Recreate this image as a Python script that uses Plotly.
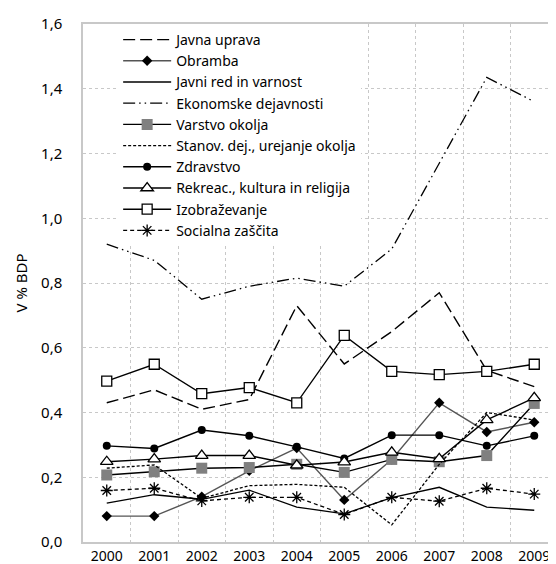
import plotly.graph_objects as go

years = ["2000", "2001", "2002", "2003", "2004", "2005", "2006", "2007", "2008", "2009"]

javna_uprava = [0.43, 0.47, 0.41, 0.44, 0.73, 0.55, 0.65, 0.77, 0.53, 0.48]
obramba = [0.08, 0.08, 0.14, 0.22, 0.29, 0.13, 0.255, 0.43, 0.34, 0.37]
javni_red = [0.12, 0.146, 0.132, 0.16, 0.108, 0.087, 0.137, 0.169, 0.108, 0.098]
ekonomske = [0.92, 0.87, 0.75, 0.79, 0.815, 0.79, 0.905, 1.17, 1.435, 1.36]
varstvo = [0.207, 0.217, 0.228, 0.23, 0.24, 0.215, 0.255, 0.248, 0.267, 0.428]
stanov = [0.228, 0.238, 0.135, 0.174, 0.178, 0.169, 0.053, 0.24, 0.40, 0.377]
zdravstvo = [0.297, 0.289, 0.346, 0.328, 0.294, 0.258, 0.33, 0.33, 0.297, 0.328]
rekreac = [0.248, 0.256, 0.267, 0.267, 0.237, 0.247, 0.277, 0.257, 0.377, 0.445]
izobrazevanje = [0.497, 0.549, 0.458, 0.477, 0.43, 0.638, 0.527, 0.517, 0.527, 0.549]
socialna = [0.159, 0.166, 0.127, 0.138, 0.138, 0.085, 0.138, 0.126, 0.166, 0.148]

names = ["Javna uprava", "Obramba", "Javni red in varnost", "Ekonomske dejavnosti",
         "Varstvo okolja", "Stanov. dej., urejanje okolja", "Zdravstvo",
         "Rekreac., kultura in religija", "Izobraževanje", "Socialna zaščita"]

FONT = "Noto Sans"
fig = go.Figure()

def add(name, y, dash="solid", lcolor="black", lwidth=1.5, symbol=None, msize=8,
        mcolor="black", mline="black", mlw=0):
    mode = "lines+markers" if symbol else "lines"
    kw = dict(x=years, y=y, name=name, mode=mode, legendgroup=name,
              line=dict(color=lcolor, width=lwidth, dash=dash))
    if symbol:
        kw["marker"] = dict(symbol=symbol, size=msize, color=mcolor,
                            line=dict(color=mline, width=mlw))
    fig.add_trace(go.Scatter(**kw))

add(names[0], javna_uprava, dash="12px,5px", lwidth=1.4)
add(names[1], obramba, lcolor="#555555", lwidth=1.4, symbol="diamond", msize=8)
add(names[2], javni_red, lwidth=1.3)
add(names[3], ekonomske, dash="12px,4px,1.5px,4px,1.5px,4px", lwidth=1.3)
add(names[4], varstvo, lwidth=1.4, symbol="square", msize=11, mcolor="#808080", mline="#808080")
add(names[5], stanov, dash="3px,2px", lwidth=1.3)
add(names[6], zdravstvo, lwidth=1.4, symbol="circle", msize=8)
add(names[7], rekreac, lwidth=1.4, symbol="triangle-up", msize=11, mcolor="white", mlw=1.3)
add(names[8], izobrazevanje, lwidth=1.4, symbol="square", msize=10, mcolor="white", mlw=1.3)
add(names[9], socialna, dash="4px,3px", lwidth=1.3, symbol="asterisk-open", msize=10, mlw=1.3)

fig.update_layout(
    width=556, height=564,
    margin=dict(l=75, r=4, t=16, b=30),
    paper_bgcolor="white", plot_bgcolor="white",
    separators=",.",
    font=dict(family=FONT, size=15, color="black"),
    showlegend=True,
    legend=dict(x=0.074, y=1.0, xanchor="left", yanchor="top",
                bgcolor="white", borderwidth=0,
                font=dict(family=FONT, size=14, color="black"),
                traceorder="normal", tracegroupgap=0, itemwidth=48),
)
fig.update_xaxes(
    type="category", range=[-0.5, 9.5], tickson="boundaries",
    showgrid=True, gridcolor="#c8c8c8", griddash="dot", gridwidth=1,
    showline=True, linecolor="#c8c8c8", linewidth=1.5, mirror=True,
    ticks="", ticklabelstandoff=0,
    tickfont=dict(family=FONT, size=14, color="black"),
)
fig.update_yaxes(
    range=[0, 1.6], dtick=0.2, tick0=0, tickformat=".1f",
    showgrid=True, gridcolor="#c8c8c8", griddash="dot", gridwidth=1,
    showline=True, linecolor="#c8c8c8", linewidth=1.5, mirror=True,
    zeroline=False, ticks="", ticklabelstandoff=16,
    tickfont=dict(family=FONT, size=15, color="black"),
    title=dict(text="V % BDP", standoff=10, font=dict(family=FONT, size=15, color="black")),
)

fig.write_html("out.html")
